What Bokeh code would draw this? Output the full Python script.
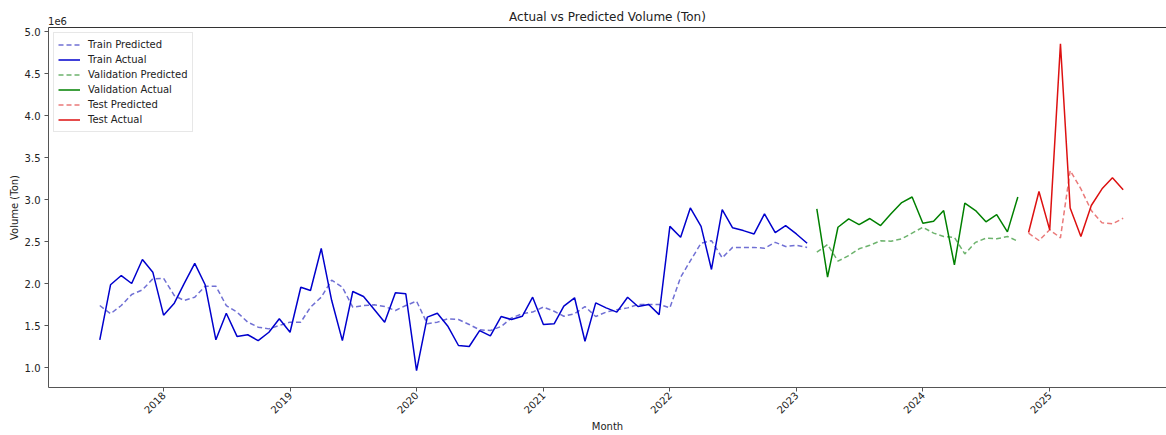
import pandas as pd
from bokeh.plotting import figure
from bokeh.models import (Range1d, FixedTicker, DatetimeTickFormatter, Legend, LegendItem,
                          LinearAxis, NumeralTickFormatter, ColumnDataSource)
from bokeh.embed import file_html
from bokeh.resources import INLINE
import math

# ---- data (values in units of 1e6 tons) ----
train_start = "2017-07-01"
train_actual = [
    1.33, 1.985, 2.095, 2.00, 2.286, 2.135,
    1.623, 1.766, 1.996, 2.24, 1.985, 1.33, 1.646, 1.37, 1.39, 1.32, 1.42, 1.58,
    1.42, 1.956, 1.917, 2.417, 1.80, 1.32, 1.905, 1.845, 1.69, 1.54, 1.889, 1.877,
    0.964, 1.60, 1.646, 1.488, 1.262, 1.25, 1.44, 1.377, 1.607, 1.571, 1.61, 1.837,
    1.512, 1.52, 1.73, 1.83, 1.313, 1.77, 1.71, 1.659, 1.837, 1.726, 1.75, 1.63,
    2.68, 2.55, 2.90, 2.68, 2.167, 2.88, 2.663, 2.63, 2.59, 2.83, 2.607, 2.69,
    2.59, 2.48,
]
train_pred = [
    1.738, 1.64, 1.738, 1.869, 1.925, 2.056,
    2.063, 1.857, 1.798, 1.837, 1.968, 1.968, 1.738, 1.659, 1.54, 1.48, 1.46, 1.50,
    1.54, 1.54, 1.718, 1.837, 2.04, 1.956, 1.718, 1.738, 1.746, 1.726, 1.679, 1.738,
    1.79, 1.52, 1.54, 1.58, 1.571, 1.512, 1.449, 1.44, 1.488, 1.59, 1.64, 1.66,
    1.72, 1.67, 1.61, 1.64, 1.726, 1.607, 1.66, 1.687, 1.71, 1.75, 1.75, 1.75,
    1.71, 2.075, 2.27, 2.48, 2.51, 2.306, 2.43, 2.43, 2.43, 2.42, 2.49, 2.44,
    2.456, 2.43,
]
val_start = "2023-03-01"
val_actual = [2.889, 2.075, 2.67, 2.77, 2.70, 2.774, 2.69, 2.83, 2.964, 3.03,
              2.718, 2.742, 2.869, 2.222, 2.956, 2.869, 2.734, 2.82, 2.615, 3.03]
val_pred = [2.373, 2.464, 2.266, 2.333, 2.413, 2.456, 2.508, 2.504, 2.532, 2.60,
            2.67, 2.60, 2.56, 2.55, 2.353, 2.49, 2.54, 2.532, 2.56, 2.504]
test_start = "2024-11-01"
test_actual = [2.607, 3.095, 2.639, 4.853, 2.90, 2.56, 2.929, 3.127, 3.258, 3.115]
test_pred = [2.60, 2.512, 2.639, 2.544, 3.345, 3.127, 2.869, 2.722, 2.71, 2.777]

year_ticks = [2018, 2019, 2020, 2021, 2022, 2023, 2024, 2025]
y_ticks = [1.0, 1.5, 2.0, 2.5, 3.0, 3.5, 4.0, 4.5, 5.0]
title_text = "Actual vs Predicted Volume (Ton)"
offset_text = "1e6"

FONT = "DejaVu Sans"

def months(start, n):
    return pd.date_range(start=start, periods=n, freq="MS")

x_start = pd.Timestamp("2017-02-03")
x_end = pd.Timestamp("2025-12-04")

p = figure(width=1166, height=435, output_backend="svg", toolbar_location=None,
           x_axis_type="datetime",
           x_range=Range1d(x_start, x_end),
           y_range=Range1d(0.762, 5.048),
           min_border_left=48, min_border_right=0, min_border_top=27, min_border_bottom=48)

p.grid.visible = False
p.outline_line_color = None
p.background_fill_color = "white"
p.border_fill_color = "white"

for ax in (p.xaxis[0], p.yaxis[0]):
    ax.axis_line_color = "#555555"
    ax.axis_line_width = 1
    ax.major_tick_line_color = "#555555"
    ax.major_tick_out = 4
    ax.major_tick_in = 0
    ax.minor_tick_line_color = None
    ax.major_label_text_font = FONT
    ax.major_label_text_font_size = "10px"
    ax.major_label_text_color = "#222222"
    ax.axis_label_text_font = FONT
    ax.axis_label_text_font_size = "10px"
    ax.axis_label_text_font_style = "normal"
    ax.axis_label_text_color = "#222222"

tick_ms = [pd.Timestamp(f"{y}-01-01").value // 10**6 for y in year_ticks]
p.xaxis.ticker = FixedTicker(ticks=tick_ms)
p.xaxis.formatter = DatetimeTickFormatter(years="%Y", months="%Y", days="%Y", hours="%Y")
p.xaxis.major_label_orientation = math.pi / 4
p.xaxis.axis_label = "Month"
p.xaxis.major_label_standoff = 2
p.xaxis.axis_label_standoff = 1

p.yaxis.ticker = FixedTicker(ticks=y_ticks)
p.yaxis.formatter = NumeralTickFormatter(format="0.0")
p.yaxis.axis_label = "Volume (Ton)"
p.yaxis.major_label_standoff = 4
p.yaxis.axis_label_standoff = 2

# top spine carrying the "1e6" offset text and the title
sci_tick = float(pd.Timestamp("2017-03-01").value // 10**6)
top_axis = LinearAxis(ticker=FixedTicker(ticks=[sci_tick]),
                      major_label_overrides={sci_tick: offset_text},
                      axis_line_color="#333333",
                      major_tick_line_color=None, minor_tick_line_color=None,
                      major_tick_out=0, major_tick_in=0,
                      major_label_text_font=FONT, major_label_text_font_size="10px",
                      major_label_text_color="#222222", major_label_standoff=3,
                      axis_label=title_text, axis_label_text_font=FONT,
                      axis_label_text_font_size="12px", axis_label_text_font_style="normal",
                      axis_label_text_color="#222222", axis_label_standoff=-10)
p.add_layout(top_axis, "above")

def src(start, vals):
    return ColumnDataSource(dict(x=months(start, len(vals)), y=vals))

DASH = "5 3"
r_tp = p.line("x", "y", source=src(train_start, train_pred), line_color="#7070d4",
              line_width=1.5, line_dash=DASH)
r_ta = p.line("x", "y", source=src(train_start, train_actual), line_color="#0000cd",
              line_width=1.5)
r_vp = p.line("x", "y", source=src(val_start, val_pred), line_color="#6db36d",
              line_width=1.5, line_dash=DASH)
r_va = p.line("x", "y", source=src(val_start, val_actual), line_color="#008000",
              line_width=1.5)
r_sp = p.line("x", "y", source=src(test_start, test_pred), line_color="#ea7a7a",
              line_width=1.5, line_dash=DASH)
r_sa = p.line("x", "y", source=src(test_start, test_actual), line_color="#dd1111",
              line_width=1.5)

legend = Legend(items=[
    LegendItem(label="Train Predicted", renderers=[r_tp]),
    LegendItem(label="Train Actual", renderers=[r_ta]),
    LegendItem(label="Validation Predicted", renderers=[r_vp]),
    LegendItem(label="Validation Actual", renderers=[r_va]),
    LegendItem(label="Test Predicted", renderers=[r_sp]),
    LegendItem(label="Test Actual", renderers=[r_sa]),
], location="top_left")
legend.label_text_font = FONT
legend.label_text_font_size = "10px"
legend.label_text_color = "#222222"
legend.glyph_width = 22
legend.glyph_height = 15
legend.label_height = 15
legend.label_standoff = 8
legend.spacing = 0
legend.padding = 4
legend.margin = 5
legend.border_line_color = "#d0d0d0"
legend.border_line_width = 1
legend.background_fill_alpha = 0.8
p.add_layout(legend, "center")

open("out.html", "w").write(file_html(p, INLINE))
